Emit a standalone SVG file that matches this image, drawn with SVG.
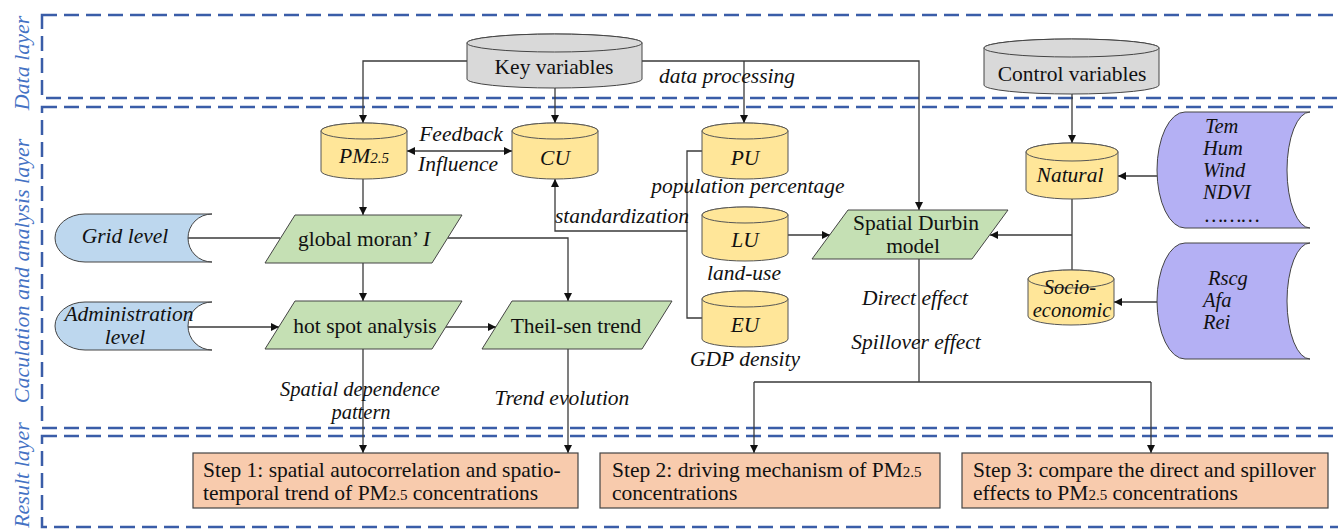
<svg xmlns="http://www.w3.org/2000/svg" width="1338" height="529" viewBox="0 0 1338 529">
<style>
text{font-family:"Liberation Serif","Times New Roman",serif;font-size:21.5px;fill:#111}
.it{font-style:italic}
.mid{text-anchor:middle}
.two{font-size:20.5px}
.step{font-size:21.5px}
.layer{fill:#4472C4;font-size:22px;font-style:italic;text-anchor:middle}
.dash{fill:none;stroke:#3A5DA8;stroke-width:2.5;stroke-dasharray:15 7}
.conn{fill:none;stroke:#3a3a3a;stroke-width:1.3}
.arr{marker-end:url(#ah)}
.gray{fill:#D9D9D9;stroke:#444;stroke-width:1}
.yel{fill:#FFE699;stroke:#555;stroke-width:1}
.grn{fill:#C5E0B4;stroke:#444;stroke-width:1}
.blu{fill:#BDD7EE;stroke:#444;stroke-width:1}
.pur{fill:#B4B0F4;stroke:#444;stroke-width:1}
.org{fill:#F8CBAD;stroke:#444;stroke-width:1.2}
.sub{font-size:15px}
</style>
<defs>
<marker id="ah" viewBox="0 0 10 10" refX="10" refY="5" markerWidth="8" markerHeight="8" markerUnits="userSpaceOnUse" orient="auto-start-reverse">
<path d="M0,0 L10,5 L0,10 z" fill="#111"/>
</marker>
</defs>

<!-- layers -->
<g id="layers">
<rect class="dash" x="42" y="15" width="1310" height="83"/>
<rect class="dash" x="42" y="107" width="1310" height="321"/>
<rect class="dash" x="42" y="436" width="1310" height="91"/>
<text class="layer" transform="translate(29,63) rotate(-90)">Data layer</text>
<text class="layer" transform="translate(29,271) rotate(-90)">Caculation and analysis layer</text>
<text class="layer" transform="translate(29,475) rotate(-90)">Result layer</text>
</g>

<!-- connectors -->
<g id="connectors">
<path class="conn arr" d="M467,61 H363 V123"/>
<path class="conn arr" d="M642,61 H919 V210"/>
<path class="conn arr" d="M744,61 V123"/>
<path class="conn arr" d="M555,88 V123"/>
<path class="conn arr" d="M1072,94 V143"/>
<path class="conn" d="M407,151 H512" marker-start="url(#ah)" marker-end="url(#ah)"/>
<path class="conn arr" d="M363,179 V215"/>
<path class="conn" d="M188,238 H280"/>
<path class="conn arr" d="M448,238 H568 V301"/>
<path class="conn arr" d="M363,263 V301"/>
<path class="conn arr" d="M188,327 H279"/>
<path class="conn arr" d="M446,327 H496"/>
<path class="conn arr" d="M363,349 V453"/>
<path class="conn arr" d="M568,349 V453"/>
<path class="conn" d="M702,151 H687 V318 H702"/>
<path class="conn arr" d="M687,231 H555 V179"/>
<path class="conn arr" d="M788,235 H830"/>
<path class="conn" d="M1072,199 V270"/>
<path class="conn arr" d="M1072,235 H990"/>
<path class="conn arr" d="M1157,176 H1118"/>
<path class="conn arr" d="M1157,302 H1114"/>
<path class="conn" d="M919,259 V382 M754,382 H1151"/>
<path class="conn arr" d="M754,382 V453"/>
<path class="conn arr" d="M1151,382 V453"/>
</g>

<!-- labels on connectors -->
<g id="edge-labels">
<text class="it mid" x="727" y="83">data processing</text>
<text class="it mid" x="461" y="141">Feedback</text>
<text class="it mid" x="458" y="171">Influence</text>
<text class="it mid" x="622" y="223">standardization</text>
<text class="it mid" x="748" y="193">population percentage</text>
<text class="it mid" x="744" y="280">land-use</text>
<text class="it mid" x="745" y="366">GDP density</text>
<text class="it mid" x="915" y="305">Direct effect</text>
<text class="it mid" x="916" y="349">Spillover effect</text>
<text class="it mid two" x="360" y="396">Spatial dependence</text>
<text class="it mid two" x="361" y="419">pattern</text>
<text class="it mid" x="562" y="405">Trend evolution</text>
</g>

<g id="key-variables">
<path class="gray" d="M467,43 V79 A87.5,9 0 0 0 642,79 V43 A87.5,9 0 0 0 467,43 Z"/>
<ellipse class="gray" cx="554.5" cy="43" rx="87.5" ry="9"/>
<text class="mid" x="554" y="74">Key variables</text>
</g>

<g id="control-variables">
<path class="gray" d="M984,48 V85 A87.5,9 0 0 0 1159,85 V48 A87.5,9 0 0 0 984,48 Z"/>
<ellipse class="gray" cx="1071.5" cy="48" rx="87.5" ry="9"/>
<text class="mid" x="1072" y="81">Control variables</text>
</g>

<g id="pm25">
<path class="yel" d="M321,131 V171 A43,8 0 0 0 407,171 V131 A43,8 0 0 0 321,131 Z"/>
<ellipse class="yel" cx="364" cy="131" rx="43" ry="8"/>
<text class="it mid" x="364" y="163">PM<tspan class="sub">2.5</tspan></text>
</g>

<g id="cu">
<path class="yel" d="M512,131 V171 A43,8 0 0 0 598,171 V131 A43,8 0 0 0 512,131 Z"/>
<ellipse class="yel" cx="555" cy="131" rx="43" ry="8"/>
<text class="it mid" x="555" y="165">CU</text>
</g>

<g id="pu">
<path class="yel" d="M702,131 V171 A43,8 0 0 0 788,171 V131 A43,8 0 0 0 702,131 Z"/>
<ellipse class="yel" cx="745" cy="131" rx="43" ry="8"/>
<text class="it mid" x="745" y="165">PU</text>
</g>

<g id="lu">
<path class="yel" d="M702,215 V253 A43,8 0 0 0 788,253 V215 A43,8 0 0 0 702,215 Z"/>
<ellipse class="yel" cx="745" cy="215" rx="43" ry="8"/>
<text class="it mid" x="745" y="247">LU</text>
</g>

<g id="eu">
<path class="yel" d="M702,299 V339 A43,8 0 0 0 788,339 V299 A43,8 0 0 0 702,299 Z"/>
<ellipse class="yel" cx="745" cy="299" rx="43" ry="8"/>
<text class="it mid" x="745" y="332">EU</text>
</g>

<g id="natural">
<path class="yel" d="M1026,152 V190 A46,9 0 0 0 1118,190 V152 A46,9 0 0 0 1026,152 Z"/>
<ellipse class="yel" cx="1072" cy="152" rx="46" ry="9"/>
<text class="it mid" x="1070" y="182">Natural</text>
</g>

<g id="socio-economic">
<path class="yel" d="M1028,279 V316 A43,9 0 0 0 1114,316 V279 A43,9 0 0 0 1028,279 Z"/>
<ellipse class="yel" cx="1071" cy="279" rx="43" ry="9"/>
<text class="it mid two" x="1070" y="294">Socio-</text>
<text class="it mid two" x="1072" y="317">economic</text>
</g>

<g id="natural-factors">
<path class="pur" d="M1185,112 H1310 A23,58 0 0 0 1310,228 H1185 A28,58 0 0 1 1185,112 Z"/>
<text class="it two" x="1205" y="133">Tem</text>
<text class="it two" x="1203" y="155">Hum</text>
<text class="it two" x="1203" y="177">Wind</text>
<text class="it two" x="1203" y="199">NDVI</text>
<text class="it two" x="1205" y="222">………</text>
</g>

<g id="socio-factors">
<path class="pur" d="M1185,243 H1310 A23,58 0 0 0 1310,359 H1185 A28,58 0 0 1 1185,243 Z"/>
<text class="it two" x="1208" y="285">Rscg</text>
<text class="it two" x="1203" y="307">Afa</text>
<text class="it two" x="1203" y="329">Rei</text>
</g>

<g id="grid-level">
<path class="blu" d="M85,214 H212 A24,24 0 0 0 212,262 H85 A30,24 0 0 1 85,214 Z"/>
<text class="it mid" x="125" y="243">Grid level</text>
</g>

<g id="administration-level">
<path class="blu" d="M85,302 H212 A24,24 0 0 0 212,350 H85 A30,24 0 0 1 85,302 Z"/>
<text class="it mid" x="129" y="321">Administration</text>
<text class="it mid" x="125" y="344">level</text>
</g>

<g id="global-moran">
<polygon class="grn" points="295,215 462,215 432,263 265,263"/>
<text class="mid" x="364" y="246">global moran’ <tspan class="it">I</tspan></text>
</g>

<g id="hot-spot">
<polygon class="grn" points="295,301 462,301 432,349 265,349"/>
<text class="mid" x="365" y="333">hot spot analysis</text>
</g>

<g id="theil-sen">
<polygon class="grn" points="512,301 672,301 642,349 482,349"/>
<text class="mid" x="576" y="333">Theil-sen trend</text>
</g>

<g id="sdm">
<polygon class="grn" points="848,210 1008,210 972,259 812,259"/>
<text class="mid" x="916" y="230">Spatial Durbin</text>
<text class="mid" x="913" y="253">model</text>
</g>

<g id="step1">
<rect class="org" x="193" y="453" width="385" height="55"/>
<text class="step" x="203" y="477">Step 1: spatial autocorrelation and spatio-</text>
<text class="step" x="203" y="500">temporal trend of PM<tspan class="sub">2.5</tspan> concentrations</text>
</g>

<g id="step2">
<rect class="org" x="600" y="453" width="340" height="55"/>
<text class="step" x="612" y="477">Step 2: driving mechanism of PM<tspan class="sub">2.5</tspan></text>
<text class="step" x="612" y="500">concentrations</text>
</g>

<g id="step3">
<rect class="org" x="962" y="453" width="366" height="55"/>
<text class="step" x="973" y="477">Step 3: compare the direct and spillover</text>
<text class="step" x="973" y="500">effects to PM<tspan class="sub">2.5</tspan> concentrations</text>
</g>
</svg>
